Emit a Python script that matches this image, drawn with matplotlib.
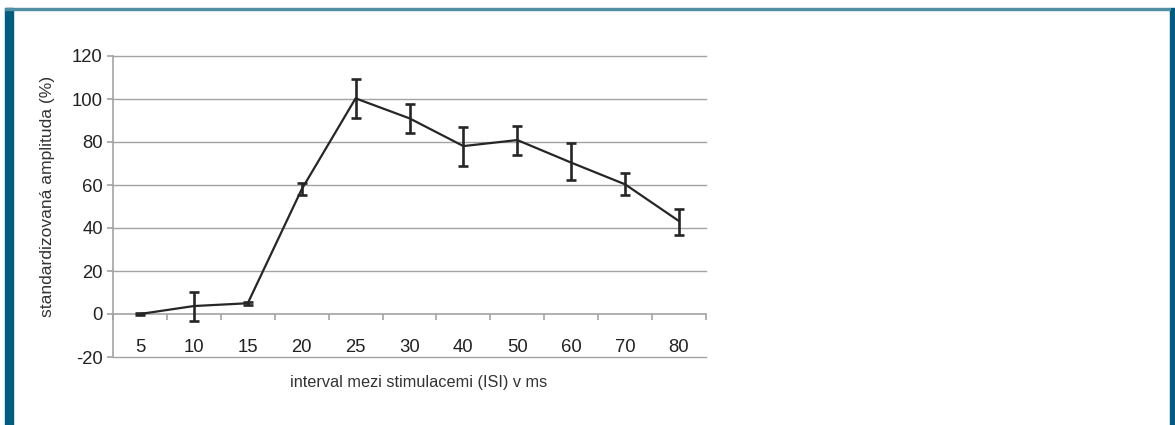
import numpy as np
import matplotlib.pyplot as plt
from matplotlib.patches import Rectangle

plt.rcParams['font.family'] = ['Liberation Sans', 'DejaVu Sans']

# data
isi_labels = ['5', '10', '15', '20', '25', '30', '40', '50', '60', '70', '80']
amplitude = [0.0, 3.7, 5.0, 58.0, 100.3, 91.0, 78.1, 80.9, 70.4, 60.3, 43.2]
err_low = [0.6, 6.8, 0.8, 2.8, 9.0, 6.7, 9.1, 6.9, 8.1, 5.0, 6.5]
err_high = [0.6, 6.5, 0.8, 3.1, 9.2, 6.5, 8.7, 6.7, 9.0, 5.1, 5.6]
y_ticks = [-20, 0, 20, 40, 60, 80, 100, 120]

fig = plt.figure(figsize=(11.75, 4.25), dpi=100)

# frame around the figure
dark_blue = '#005b80'
fig.patches.append(Rectangle((5 / 1175, 0), 7.5 / 1175, 417 / 425, transform=fig.transFigure,
                             color=dark_blue, zorder=0))
fig.patches.append(Rectangle((1170 / 1175, 0), 5 / 1175, 417 / 425, transform=fig.transFigure,
                             color=dark_blue, zorder=0))
fig.patches.append(Rectangle((5 / 1175, 415 / 425), 1165 / 1175, 2.5 / 425, transform=fig.transFigure,
                             color='#4f8ea3', zorder=0))

ax = fig.add_axes([113 / 1175, 68 / 425, 593 / 1175, 301 / 425])

x = np.arange(len(isi_labels))
ax.errorbar(x, amplitude, yerr=[err_low, err_high], color='#262626', linewidth=1.6,
            elinewidth=1.9, capsize=3.6, capthick=1.9, zorder=3)

ax.set_xlim(-0.5, len(isi_labels) - 0.5)
ax.set_ylim(-20, 120)
ax.set_yticks(y_ticks)
ax.set_yticklabels([str(v) for v in y_ticks])

grid_col = '#a3a3a3'
for v in y_ticks:
    if v != 0:
        ax.axhline(v, color=grid_col, linewidth=1.0, zorder=1, clip_on=False)

for side in ['top', 'right']:
    ax.spines[side].set_visible(False)
ax.spines['left'].set_color(grid_col)
ax.spines['left'].set_linewidth(1.2)
ax.spines['bottom'].set_position(('data', 0))
ax.spines['bottom'].set_color(grid_col)
ax.spines['bottom'].set_linewidth(1.2)

# category labels in the middle, tick marks on the boundaries
ax.set_xticks(x)
ax.set_xticklabels(isi_labels)
ax.set_xticks(np.arange(len(isi_labels) + 1) - 0.5, minor=True)
ax.tick_params(axis='x', which='major', length=0, pad=18, labelsize=13.3, labelcolor='#222222')
ax.tick_params(axis='x', which='minor', length=4.5, width=1.2, color=grid_col, direction='out')
ax.tick_params(axis='y', length=4.3, width=1.2, color=grid_col, labelsize=13.3,
               labelcolor='#222222', pad=3)

fig.text(48 / 1175, 1 - 196 / 425, 'standardizovaná amplituda (%)', fontsize=12.6,
         color='#333333', ha='center', va='center', rotation=90)
fig.text(419 / 1175, 1 - 383 / 425, 'interval mezi stimulacemi (ISI) v ms', fontsize=11.7,
         color='#333333', ha='center', va='center')

fig.savefig('out.png', dpi=100)
